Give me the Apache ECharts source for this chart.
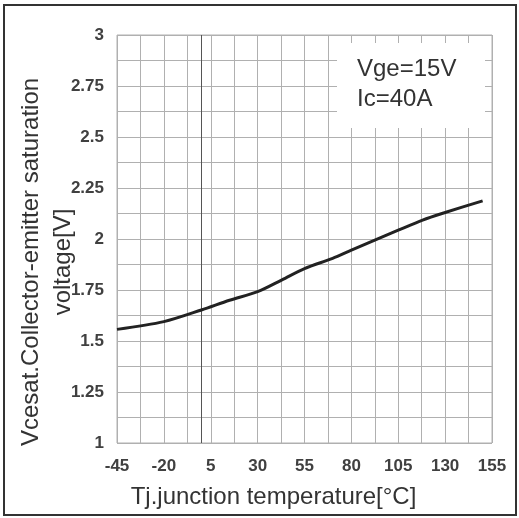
<!DOCTYPE html>
<html>
<head>
<meta charset="utf-8">
<script src="https://cdn.jsdelivr.net/npm/echarts@6/dist/echarts.min.js"></script>
<style>
  html, body { margin: 0; padding: 0; background: #fff; }
  #chart { width: 519px; height: 518px; }
</style>
</head>
<body>
<div id="chart"></div>
<script>
// Junction temperature (°C) and collector-emitter saturation voltage (V)
const temperatures = [-45, -20, 0, 15, 30, 43, 55, 70, 80, 105, 118, 130, 150];
const vcesat = [1.557, 1.595, 1.652, 1.70, 1.742, 1.80, 1.855, 1.905, 1.945, 2.043, 2.093, 2.13, 2.187];

// Axis tick labels
const xTickLabels = [-45, -20, 5, 30, 55, 80, 105, 130, 155];
const conditionLines = ['Vge=15V', 'Ic=40A'];

const FONT = '"Liberation Sans", Arial, sans-serif';
const gridColor = '#b0b0b0';

const chart = echarts.init(document.getElementById('chart'), null, { renderer: 'canvas' });

chart.setOption({
  backgroundColor: '#ffffff',
  animation: false,
  grid: {
    left: 117, top: 35, right: 27, bottom: 75,
    containLabel: false,
    outerBoundsMode: 'none',
    show: true, borderColor: gridColor, borderWidth: 1, backgroundColor: 'transparent'
  },
  xAxis: [
    {
      type: 'value',
      min: -45, max: 155,
      name: 'Tj.junction temperature[°C]',
      nameLocation: 'middle',
      nameGap: 42,
      nameMoveOverlap: false,
      nameTextStyle: { fontFamily: FONT, fontSize: 24, color: '#333', padding: [0, 62, 0, 0] },
      axisLine: { show: false },
      axisTick: { show: false, customValues: xTickLabels },
      axisLabel: {
        customValues: xTickLabels,
        margin: 15,
        fontFamily: FONT, fontSize: 17, fontWeight: 'bold', color: '#404040'
      },
      splitLine: { show: false }
    },
    {
      // minor grid every 12.5 °C across the full range
      type: 'value',
      min: 0, max: 16, interval: 1,
      position: 'bottom',
      axisLine: { show: false },
      axisTick: { show: false },
      axisLabel: { show: false },
      splitLine: { show: true, lineStyle: { color: gridColor, width: 1 } }
    }
  ],
  yAxis: {
    type: 'value',
    min: 1, max: 3, interval: 0.25,
    name: 'Vcesat.Collector-emitter saturation\nvoltage[V]',
    nameLocation: 'middle',
    nameRotate: 90,
    nameGap: 38,
    nameMoveOverlap: false,
    nameTextStyle: { fontFamily: FONT, fontSize: 24, color: '#333', lineHeight: 32, padding: [0, 46, 0, 0] },
    axisLine: { show: false },
    axisTick: { show: false },
    axisLabel: {
      margin: 13,
      fontFamily: FONT, fontSize: 17, fontWeight: 'bold', color: '#404040'
    },
    splitLine: { show: true, lineStyle: { color: gridColor, width: 1 } },
    minorTick: { show: false, splitNumber: 2 },
    minorSplitLine: { show: true, lineStyle: { color: gridColor, width: 1 } }
  },
  series: [{
    type: 'line',
    xAxisIndex: 0,
    data: temperatures.map((t, i) => [t, vcesat[i]]),
    smooth: 0.3,
    symbol: 'none',
    lineStyle: { color: '#222', width: 3 },
    z: 5,
    markLine: {
      silent: true,
      symbol: 'none',
      label: { show: false },
      lineStyle: { color: '#555', width: 1, type: 'solid' },
      data: [{ xAxis: 0 }]
    }
  }],
  graphic: [
    {
      type: 'rect',
      z: 100,
      shape: { x: 337, y: 43, width: 148, height: 85 },
      style: { fill: '#ffffff', stroke: null }
    },
    {
      type: 'text',
      z: 101,
      x: 357, y: 69,
      style: { text: conditionLines[0], font: '24px ' + FONT, fill: '#333', verticalAlign: 'middle', align: 'left' }
    },
    {
      type: 'text',
      z: 101,
      x: 357, y: 99,
      style: { text: conditionLines[1], font: '24px ' + FONT, fill: '#333', verticalAlign: 'middle', align: 'left' }
    },
    {
      type: 'rect',
      z: 100,
      shape: { x: 4, y: 5, width: 512, height: 510 },
      style: { fill: 'none', stroke: '#333', lineWidth: 2 }
    }
  ]
});
</script>
</body>
</html>
